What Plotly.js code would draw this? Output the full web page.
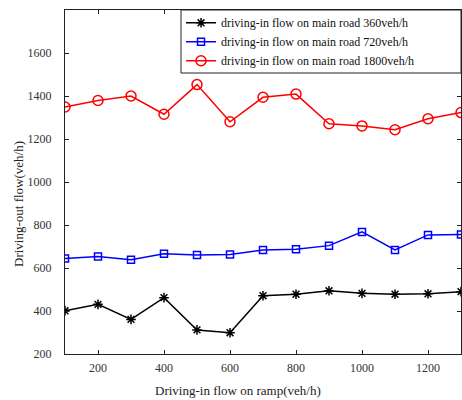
<!DOCTYPE html>
<html><head><meta charset="utf-8">
<script src="https://cdn.plot.ly/plotly-3.0.1.min.js"></script>
<style>html,body{margin:0;padding:0;background:#fff}</style>
</head><body>
<div id="chart" style="width:462px;height:400px"></div>
<script>
const rampFlow = [100,200,300,400,500,600,700,800,900,1000,1100,1200,1300];
const flow360 = [401,431,361,462,312,299,471,478,494,482,478,480,490];
const flow720 = [644,653,638,666,661,663,684,687,704,768,684,754,756];
const flow1800 = [1349,1379,1400,1315,1453,1280,1394,1409,1271,1261,1243,1294,1323];
const seriesNames = ["driving-in flow on main road 360veh/h","driving-in flow on main road 720veh/h","driving-in flow on main road 1800veh/h"];
const xTitle = "Driving-in flow on ramp(veh/h)";
const yTitle = "Driving-out flow(veh/h)";

const font = "Liberation Serif, Times New Roman, serif";
const traces = [
  {x: rampFlow, y: flow360, name: seriesNames[0], mode: "lines+markers",
   line: {color: "#000", width: 1.5}, marker: {symbol: "asterisk-open", size: 8, color: "#000", line: {color: "#000", width: 1.5}}},
  {x: rampFlow, y: flow720, name: seriesNames[1], mode: "lines+markers",
   line: {color: "#0000ff", width: 1.5}, marker: {symbol: "square-open", size: 7, color: "#0000ff", line: {color: "#0000ff", width: 1.5}}},
  {x: rampFlow, y: flow1800, name: seriesNames[2], mode: "lines+markers",
   line: {color: "#ff0000", width: 1.5}, marker: {symbol: "circle-open", size: 10, color: "#ff0000", line: {color: "#ff0000", width: 1.5}}}
];
const axisCommon = {showgrid: false, zeroline: false, showline: true, mirror: "ticks", linecolor: "#222", linewidth: 1,
  ticks: "inside", ticklen: 4, tickcolor: "#222", tickfont: {family: font, size: 12, color: "#333"}};
const layout = {
  width: 462, height: 400,
  margin: {l: 65, r: 1, t: 10, b: 46},
  paper_bgcolor: "#fff", plot_bgcolor: "#fff",
  font: {family: font, color: "#222"},
  showlegend: true,
  legend: {x: 0.293, y: 1.005, xanchor: "left", yanchor: "top", bgcolor: "rgba(0,0,0,0)", borderwidth: 0,
    font: {family: font, size: 12, color: "#111"}, tracegroupgap: 0, itemwidth: 30},
  xaxis: Object.assign({}, axisCommon, {range: [100, 1300], tickvals: [200,400,600,800,1000,1200], ticklabelstandoff: 3}),
  yaxis: Object.assign({}, axisCommon, {range: [200, 1800], tickvals: [200,400,600,800,1000,1200,1400,1600], ticklabelstandoff: 10}),
  shapes: [
    {type: "rect", xref: "paper", yref: "paper", x0: (181-65)/396, x1: 1, y0: (354-73)/344, y1: 1,
     fillcolor: "#fff", line: {color: "#222", width: 1}, layer: "above"}
  ],
  annotations: [
    {text: xTitle, xref: "paper", yref: "paper", x: (238-65)/396, y: -36/344, xanchor: "center", yanchor: "middle", showarrow: false,
     font: {family: font, size: 13, color: "#222"}},
    {text: yTitle, xref: "paper", yref: "paper", x: -47/396, y: (354-204)/344, xanchor: "center", yanchor: "middle", showarrow: false, textangle: -90,
     font: {family: font, size: 13, color: "#222"}}
  ]
};
Plotly.newPlot("chart", traces, layout, {displayModeBar: false, staticPlot: true});
</script>
</body></html>
